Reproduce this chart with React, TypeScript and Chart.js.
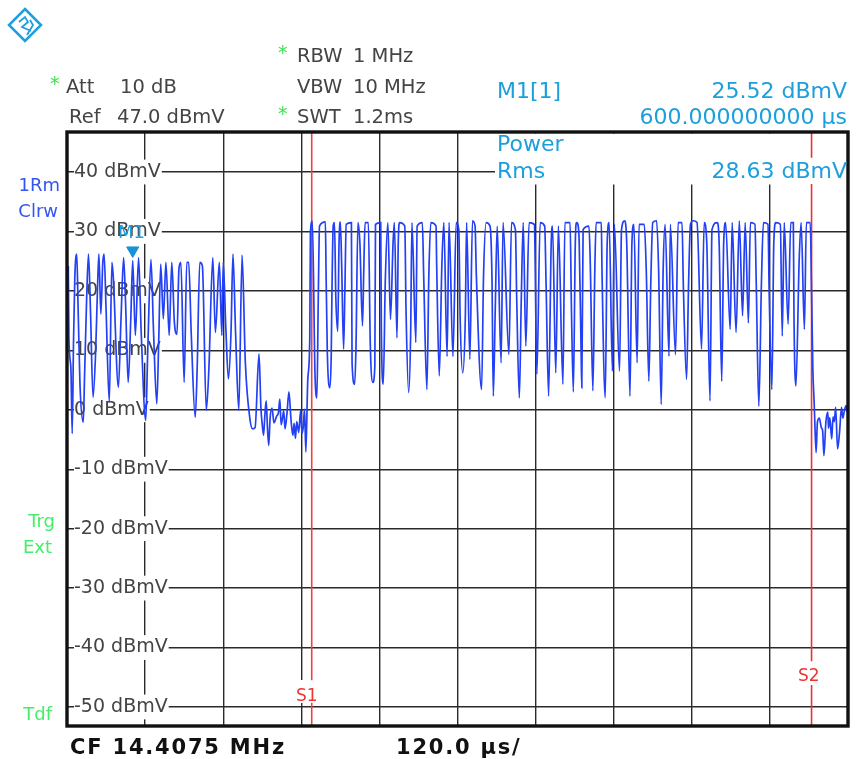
import React, { useEffect, useRef } from "react";
import { Chart, registerables } from "chart.js";

Chart.register(...registerables);

const yTicks = [40, 30, 20, 10, 0, -10, -20, -30, -40, -50];
const sweepMicros = 1200;
const divisionMicros = 120;
const s1Time = 376;
const s2Time = 1144;
const markerPoint = [[101, 26.8]];

// [µs, dBmV]
const burstOne = [
  [2,24.2],[3,11.9],[6,6.9],[8,-4],[10,11.3],[12,22.3],[15,26.2],[17,17.5],[20,4.1],[25,-2.1],[27,5.7],[30,18],[33,26.2],[36,17],[40,2.1],[44,9.7],[47,20.9],[49,26.2],[52,16.1],[55,24.8],[57,26.2],[60,17],[65,1.3],[69,24.8],[71,22.5],[79,3.8],[83,15.3],[87,25.6],[90,18],[94,4.6],[98,15.3],[101,25.1],[105,12.5],[110,25.6],[114,13],[121,-1.8],[124,9.7],[129,25.3],[133,13],[138,1],[141,11.9],[144,24.5],[148,15.3],[152,24.8],[157,12.5],[161,24.8],[165,14.7],[169,12.7],[172,23.7],[175,24.8],[180,4.6],[184,24.8],[187,24.8],[191,12.5],[197,-1.3],[200,6.9],[204,24.8],[208,24.2],[214,-0.1],[218,6.9],[224,25.6],[228,13],[234,24.8],[238,12.5],[240,24.8],[244,13.9],[248,5.2],[252,13],[255,26.2],[259,13],[264,-0.1],[269,26],
];
const gapNoise = [
  [274,8],[281,-1.5],[285,-3.2],[289,-3],[295,9.4],[298,0.2],[300,-2.5],[302,-4.3],[304,-1],[306,1.5],[308,-3],[310,-6],[312,-1.5],[315,0.3],[318,-2.2],[322,-1.1],[325,-0.4],[327,1.8],[329,-2.5],[331,-1.5],[333,-0.2],[335,-3.2],[338,-0.6],[341,3],[344,-1.4],[347,-4.3],[349,-2.3],[351,-4.8],[353,-2],[356,-3.8],[359,-0.1],[361,-4],[363,-2.9],[365,0.1],[367,-7.1],[370,5.2],[373,11.9],
];
const burstTwoA = [
  [374,29.8],[377,31.7],[381,6.2],[384,2],[386,18],[388,30.9],[397,31.6],[398,23.6],[400,9.6],[404,3.7],[406,9.3],[407,18.9],[409,30.9],[411,31.5],[413,19.1],[416,13.2],[418,28.1],[420,31.6],[422,24.5],[425,10.2],[427,20.3],[429,31.2],[437,31.5],[438,7.9],[442,4.3],[444,10.4],[447,31.5],[450,28.1],[454,14.1],[456,23.6],[458,31.5],[463,31.5],[466,11],[470,4.6],[473,7.4],[474,31.2],[482,31.5],[483,13.5],[486,4.3],[489,21.4],[493,31.5],[497,15.2],[501,28.1],[503,31.5],[507,12.1],[509,28.1],[511,31.5],[519,30.9],[521,16.3],[525,2.9],[528,12.7],[530,31.5],[536,11.3],[538,30.9],[546,31.5],[548,22.8],[553,3.4],[556,22.8],[559,31.5],[567,30.9],[568,24.5],[572,5.7],[576,24.5],[579,31.5],[584,9],[587,31.5],[593,9],[598,31.5],[602,30.3],[604,15.8],[608,6.2],[612,15.5],[614,31.5],[619,8.5],[623,31.8],[627,30.9],[629,22.5],[637,3.4],[640,22.5],[644,31.5],[650,30.9],[653,21.9],[655,2.3],[658,16.9],[661,30.9],[667,7.9],[670,31.5],[679,9.3],[683,31.5],[689,30.3],[691,18.6],[695,2],[698,18.6],[701,31.5],[705,10.7],[710,31.5],[718,31.2],[722,6],[727,31.5],[734,30.9],[736,21.7],[740,2.3],[744,28.1],[746,30.9],[751,6.2],[755,30.9],[762,4.3],[765,31.5],
];
const burstTwoB = [
  [773,31.5],[775,17.5],[778,3],[781,28.1],[783,31.5],[785,31.2],[787,28.1],[790,9.3],[791,3.7],[793,30.3],[802,30.9],[804,24.7],[808,3.2],[811,23.6],[813,31.5],[821,31.5],[822,23.6],[827,2],[830,28.1],[833,31.5],[838,6.5],[841,31.2],[849,6.5],[852,30.3],[857,31.8],[860,28.1],[865,2.3],[868,28.1],[871,31.2],[876,7.9],[879,31.2],[887,31.2],[890,23.6],[894,4.8],[897,21.4],[900,31.5],[906,31.8],[909,23.6],[913,0.9],[916,23.6],[919,31.2],[925,9],[927,31.2],[935,9.3],[939,31.5],[945,31.5],[947,21],[952,5.1],[955,21],[958,31.2],[962,31.8],[968,31.5],[975,10.2],[979,31.5],[983,28.1],[988,1.5],[991,30.3],[999,31.5],[1002,28.1],[1006,4.8],[1009,28.1],[1012,31.5],[1019,13.5],[1022,31.5],[1028,13],[1033,31.8],[1038,15.8],[1042,31.5],[1047,14.6],[1050,31.5],[1057,31.2],[1059,21.4],[1063,0.6],[1067,21.4],[1070,31.5],[1077,31.2],[1079,19.1],[1083,3.4],[1086,28.1],[1089,31.5],[1096,31.2],[1099,12.4],[1102,31.5],[1108,14.4],[1112,31.5],[1116,31.5],[1117,15.8],[1120,4],[1125,25.3],[1128,31.5],[1133,13.5],[1136,31.5],[1142,31.5],
];
const tailNoise = [
  [1144,20],[1146,6.8],[1148,1.2],[1149,-2.1],[1151,-7.2],[1153,-2.1],[1156,-1.4],[1159,-3],[1161,-3.5],[1163,-7.7],[1166,-2.1],[1169,-0.4],[1170,-3.1],[1172,-1.3],[1175,-4.9],[1177,-1.2],[1179,-2],[1181,0.4],[1184,-6.6],[1187,-3.8],[1190,0.4],[1192,-1.4],[1194,-0.4],[1197,0.7],[1199,-0.4],
];

const headerLeft = [["Att", 66, 93], ["10 dB", 120, 93], ["Ref", 69, 123], ["47.0 dBmV", 117, 123]];
const headerMid = [["RBW", 297, 62], ["1 MHz", 353, 62], ["VBW", 297, 93], ["10 MHz", 353, 93], ["SWT", 297, 123], ["1.2ms", 353, 123]];
const starPositions = [[50, 90], [278, 59], [278, 120]];
const cyanLeft = [["M1[1]", 497, 98], ["Power", 497, 151], ["Rms", 497, 178]];
const cyanRight = [["25.52 dBmV", 847, 98], ["600.000000000 µs", 847, 124], ["28.63 dBmV", 847, 178]];
const blueSide = [["1Rm", 60, 191], ["Clrw", 58, 217]];
const greenSide = [["Trg", 55, 527], ["Ext", 52, 553], ["Tdf", 52, 720]];

const SANS = '"DejaVu Sans", sans-serif';
const CYAN = "#1c9fdc";

const toPoints = (rows: number[][]) => rows.map(([x, y]) => ({ x, y }));

const instrumentPlugin = {
  id: "instrument",
  beforeDatasetsDraw(chart: any) {
    const c = chart.ctx;
    c.save();
    c.fillStyle = "#ffffff";
    c.fillRect(495, 133.5, 352.5, 51);
    c.fillRect(292, 680, 28, 23);
    c.restore();
  },
  afterDraw(chart: any) {
    const c = chart.ctx;
    const a = chart.chartArea;
    c.save();
    c.strokeStyle = "#111111";
    c.lineWidth = 3.4;
    c.strokeRect(a.left, a.top, a.right - a.left, a.bottom - a.top);

    c.textBaseline = "alphabetic";
    c.font = `19.5px ${SANS}`;
    c.textAlign = "left";
    c.fillStyle = "#444444";
    [...headerLeft, ...headerMid].forEach(([t, x, y]: any) => c.fillText(t, x, y));
    c.fillStyle = "#3fe04f";
    c.font = `19px ${SANS}`;
    starPositions.forEach(([x, y]) => c.fillText("*", x, y));
    c.font = `22px ${SANS}`;
    c.fillStyle = CYAN;
    cyanLeft.forEach(([t, x, y]: any) => c.fillText(t, x, y));
    c.textAlign = "right";
    cyanRight.forEach(([t, x, y]: any) => c.fillText(t, x, y));
    c.font = `18px ${SANS}`;
    c.fillStyle = "#3355ee";
    blueSide.forEach(([t, x, y]: any) => c.fillText(t, x, y));
    c.fillStyle = "#44ee66";
    greenSide.forEach(([t, x, y]: any) => c.fillText(t, x, y));

    c.textAlign = "left";
    c.fillStyle = "#ee3333";
    c.font = `17px ${SANS}`;
    c.fillText("S1", 296, 701);
    c.fillText("S2", 798, 681);
    c.fillStyle = CYAN;
    c.font = `18px ${SANS}`;
    c.fillText("M1", 118, 238);

    c.fillStyle = "#111111";
    c.font = `bold 21px ${SANS}`;
    c.letterSpacing = "1.8px";
    c.fillText("CF 14.4075 MHz", 70, 754);
    c.fillText("120.0 µs/", 396, 754);
    c.letterSpacing = "0px";

    // logo
    c.strokeStyle = CYAN;
    c.lineWidth = 2.5;
    c.beginPath();
    c.moveTo(25, 9);
    c.lineTo(41, 25);
    c.lineTo(25, 41);
    c.lineTo(9, 25);
    c.closePath();
    c.stroke();
    c.lineWidth = 1.8;
    c.beginPath();
    c.moveTo(19, 22);
    c.lineTo(25, 17);
    c.lineTo(28, 22);
    c.lineTo(22, 27);
    c.lineTo(31, 31);
    c.moveTo(30, 20);
    c.lineTo(33, 25);
    c.lineTo(27, 35);
    c.stroke();
    c.restore();
  },
};

export default function App() {
  const ref = useRef<HTMLCanvasElement>(null);
  useEffect(() => {
    const chart = new Chart(ref.current as any, {
      type: "line",
      plugins: [instrumentPlugin],
      data: {
        datasets: [
          {
            label: "S1",
            data: [
              { x: s1Time, y: 46.73 }, { x: s1Time, y: -45.5 },
              { x: s1Time, y: null },
              { x: s1Time, y: -49.3 }, { x: s1Time, y: -53.2 },
            ],
            borderColor: "#f04040",
            borderWidth: 1.6,
            pointRadius: 0,
            order: 3,
          },
          {
            label: "S2",
            data: [
              { x: s2Time, y: 46.73 }, { x: s2Time, y: 42.4 },
              { x: s2Time, y: null },
              { x: s2Time, y: 38 }, { x: s2Time, y: -42.3 },
              { x: s2Time, y: null },
              { x: s2Time, y: -46.3 }, { x: s2Time, y: -53.2 },
            ],
            borderColor: "#f03030",
            borderWidth: 1.6,
            pointRadius: 0,
            order: 3,
          },
          {
            label: "Trace 1",
            data: toPoints([...burstOne, ...gapNoise, ...burstTwoA, ...burstTwoB, ...tailNoise]),
            borderColor: "#2340f5",
            borderWidth: 1.7,
            pointRadius: 0,
            cubicInterpolationMode: "monotone",
            order: 2,
          },
          {
            label: "M1",
            data: toPoints(markerPoint),
            showLine: false,
            pointStyle: "triangle",
            rotation: 180,
            pointRadius: 7,
            backgroundColor: "#1593d6",
            borderColor: "#1593d6",
            order: 1,
          },
        ],
      },
      options: {
        responsive: false,
        animation: false,
        events: [],
        layout: { padding: { left: 67, top: 132, right: 7, bottom: 33 } },
        plugins: { legend: { display: false }, tooltip: { enabled: false }, title: { display: false } },
        scales: {
          x: {
            type: "linear",
            min: 0,
            max: sweepMicros,
            afterFit: (s: any) => { s.height = 0; },
            border: { display: false },
            grid: { color: "#2a2a2a", lineWidth: 1.4, drawTicks: false },
            ticks: { display: false, stepSize: divisionMicros },
          },
          y: {
            type: "linear",
            min: -53.2,
            max: 46.73,
            afterBuildTicks: (s: any) => { s.ticks = yTicks.map((value) => ({ value })); },
            afterFit: (s: any) => { s.width = 0; },
            border: { display: false },
            grid: { color: "#2a2a2a", lineWidth: 1.4, drawTicks: false },
            ticks: {
              mirror: true,
              padding: 7,
              color: "#444444",
              font: { family: "DejaVu Sans", size: 19 },
              callback: (v: any) => `${v} dBmV`,
              showLabelBackdrop: true,
              backdropColor: "#ffffff",
              backdropPadding: { top: 1, bottom: 1, left: 0, right: 1 },
              autoSkip: false,
            },
          },
        },
      },
    } as any);
    return () => chart.destroy();
  }, []);
  return (
    <canvas
      ref={ref}
      width={856}
      height={759}
      style={{ position: "absolute", left: 0, top: 0, display: "block", background: "#ffffff" }}
    />
  );
}
